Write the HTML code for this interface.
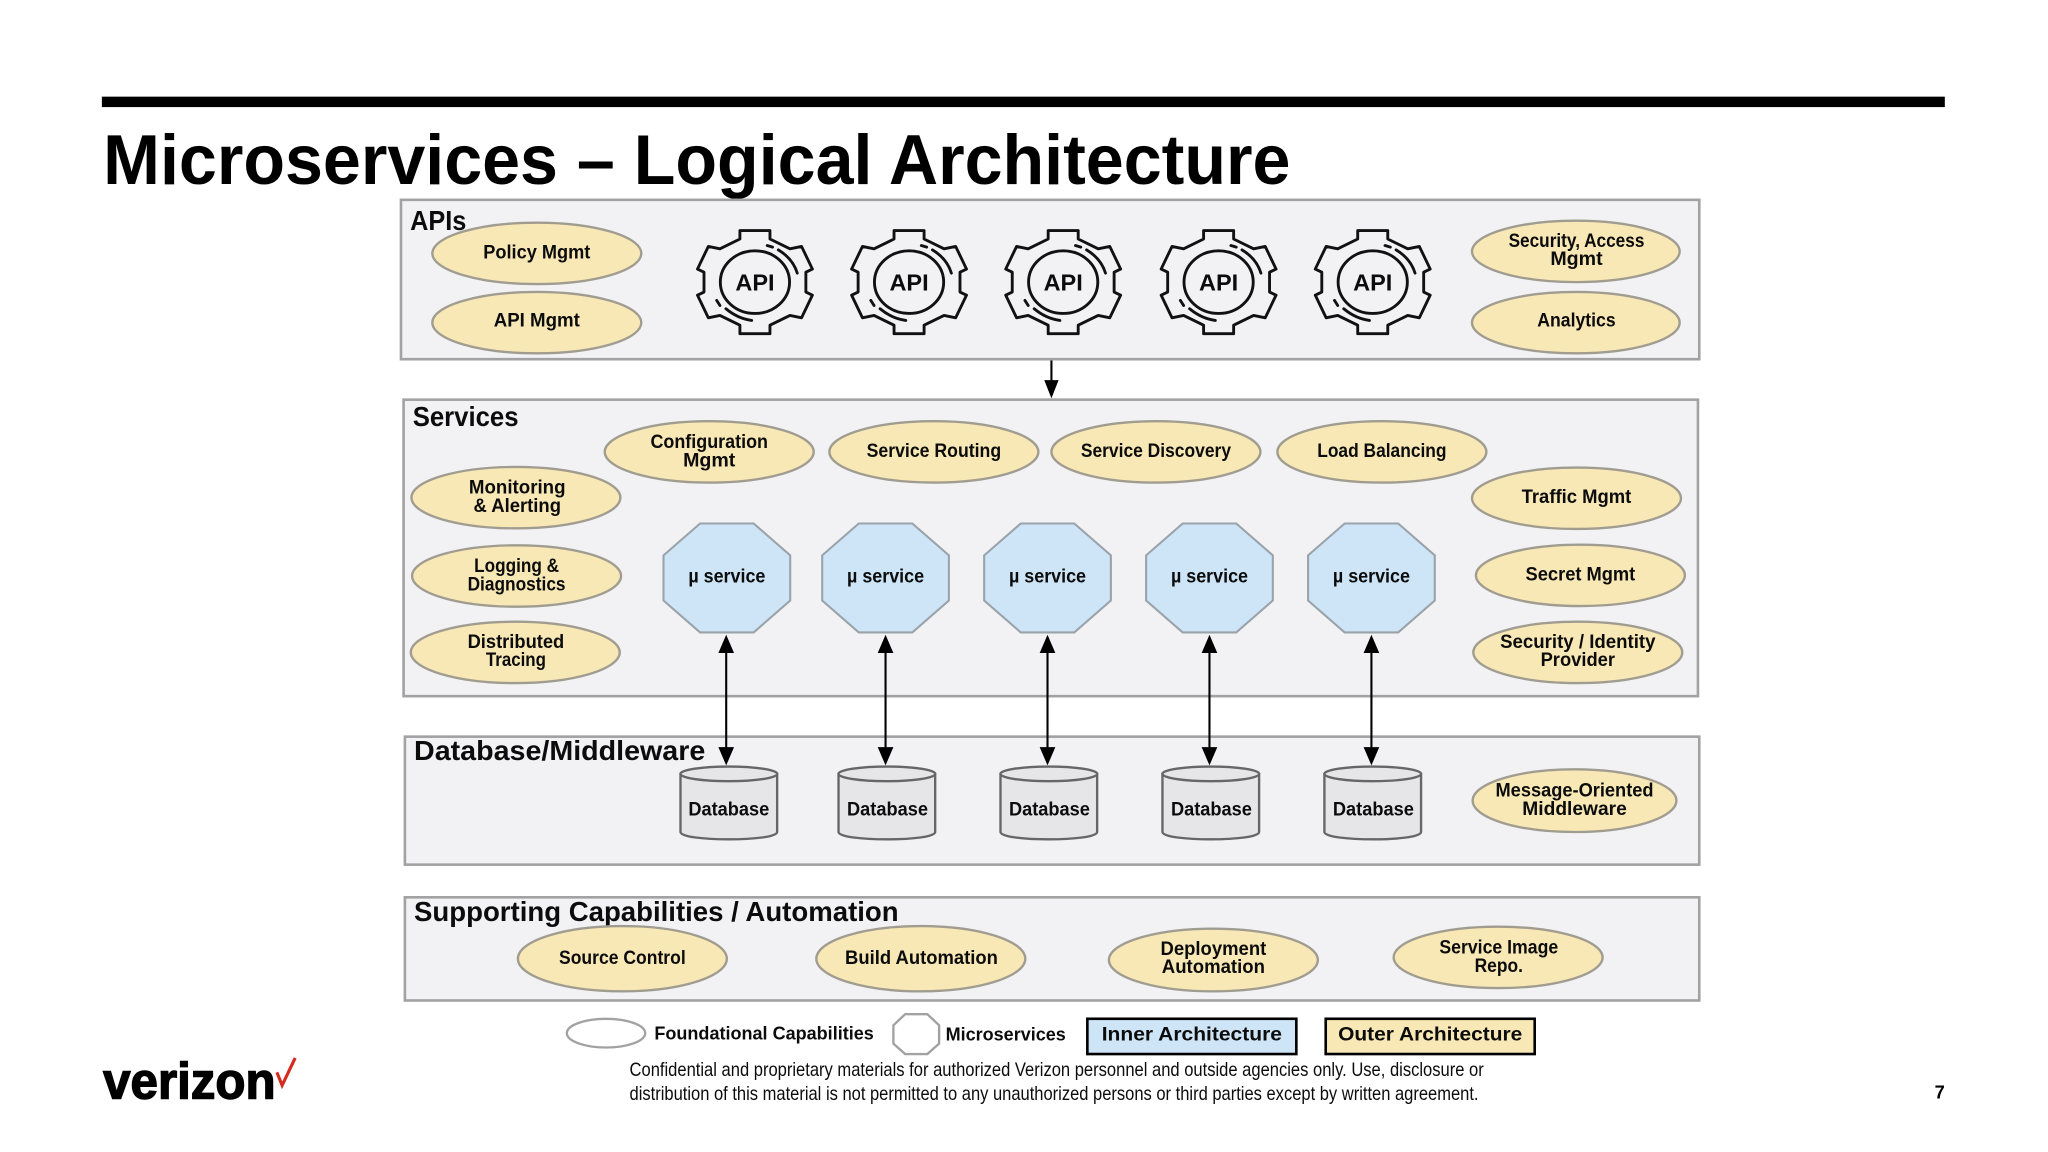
<!DOCTYPE html>
<html>
<head>
<meta charset="utf-8">
<title>Microservices – Logical Architecture</title>
<style>
html,body{margin:0;padding:0;background:#fff;width:2048px;height:1152px;overflow:hidden}
svg{display:block}
text{font-family:"Liberation Sans",sans-serif;fill:#0c0c0c}
.b{font-weight:bold}
.p{font-weight:bold;font-size:14.5px;text-anchor:middle}
.h{font-weight:bold;font-size:21px}
.box{fill:#f2f2f4;stroke:#a2a2a2;stroke-width:2}
.e{fill:#f8e8b6;stroke:#a09c90;stroke-width:1.8}
.o{fill:#cde5f7;stroke:#9aa2aa;stroke-width:1.6}
.a{stroke:#000;stroke-width:1.6;fill:none}
.g{fill:none;stroke:#111;stroke-width:2.2;stroke-linejoin:round;stroke-linecap:round}
.c{fill:#e6e6e9;stroke:#666;stroke-width:1.8}
</style>
</head>
<body>
<svg xmlns="http://www.w3.org/2000/svg" width="2048" height="1152" viewBox="0 0 1568 882">
<defs>
<g id="gear">
<path class="g" d="M-11.5,-33 L-11.5,-39.5 L11.5,-39.5 L11.5,-33 L26.8,-25.5 L35.7,-27.3 L44,-10 L39,-7.6 L39,7.6 L44,10 L35.7,27.3 L26.8,25.5 L11.5,33 L11.5,39.5 L-11.5,39.5 L-11.5,33 L-26.8,25.5 L-35.7,27.3 L-44,10 L-39,7.6 L-39,-7.6 L-44,-10 L-35.7,-27.3 L-26.8,-25.5 Z"/>
<ellipse class="g" rx="26.5" ry="24"/>
<path class="g" d="M17.9,-24.7 Q29,-18 32.4,-6.9 M9.4,-28 L13.5,-26.8 M-22.2,20.4 Q-13,28 -2.5,29.3 M-29.3,14 L-26.8,17.9"/>
</g>
<polygon id="oct" class="o" points="-48.5,-17.3 -20.5,-41.7 20.5,-41.7 48.5,-17.3 48.5,17.3 20.5,41.7 -20.5,41.7 -48.5,17.3"/>
<g id="cyl">
<path class="c" d="M-37,-22.5 L-37,22 C-37,29.5 37,29.5 37,22 L37,-22.5 Z"/>
<ellipse class="c" cx="0" cy="-22.5" rx="37" ry="5.6"/>
</g>
<g id="dbl">
<line class="a" x1="0" y1="498" x2="0" y2="574"/>
<polygon points="0,486 -6,500 6,500"/>
<polygon points="0,586 -6,572 6,572"/>
</g>
</defs>

<rect x="78" y="74" width="1411" height="8" fill="#000"/>
<text x="79" y="141" class="b" style="font-size:54px;fill:#000" textLength="909" lengthAdjust="spacingAndGlyphs">Microservices – Logical Architecture</text>

<rect class="box" x="307" y="153" width="994" height="122"/>
<rect class="box" x="309" y="306" width="991" height="227"/>
<rect class="box" x="310" y="564" width="991" height="98"/>
<rect class="box" x="310" y="687" width="991" height="79"/>

<text x="314" y="176" class="h" textLength="43" lengthAdjust="spacingAndGlyphs">APIs</text>
<text x="316" y="326" class="h" textLength="81" lengthAdjust="spacingAndGlyphs">Services</text>
<text x="317" y="582" class="h" textLength="223" lengthAdjust="spacingAndGlyphs">Database/Middleware</text>
<text x="317" y="705" class="h" textLength="371" lengthAdjust="spacingAndGlyphs">Supporting Capabilities / Automation</text>

<!-- API row -->
<ellipse class="e" cx="411" cy="194" rx="80" ry="23.5"/>
<text class="p" x="411" y="198" textLength="82" lengthAdjust="spacingAndGlyphs">Policy Mgmt</text>
<ellipse class="e" cx="411" cy="247" rx="80" ry="23.5"/>
<text class="p" x="411" y="250" textLength="66" lengthAdjust="spacingAndGlyphs">API Mgmt</text>
<ellipse class="e" cx="1206.5" cy="192.5" rx="79.5" ry="23.5"/>
<text class="p" x="1207" y="189" textLength="104" lengthAdjust="spacingAndGlyphs">Security, Access</text>
<text class="p" x="1207" y="203" textLength="40" lengthAdjust="spacingAndGlyphs">Mgmt</text>
<ellipse class="e" cx="1206.5" cy="247" rx="79.5" ry="23.5"/>
<text class="p" x="1207" y="250" textLength="60" lengthAdjust="spacingAndGlyphs">Analytics</text>

<use href="#gear" x="578" y="216"/>
<use href="#gear" x="696" y="216"/>
<use href="#gear" x="814" y="216"/>
<use href="#gear" x="933" y="216"/>
<use href="#gear" x="1051" y="216"/>
<g style="font-size:18px;font-weight:bold;text-anchor:middle">
<text x="578" y="222.5">API</text>
<text x="696" y="222.5">API</text>
<text x="814" y="222.5">API</text>
<text x="933" y="222.5">API</text>
<text x="1051" y="222.5">API</text>
</g>

<line class="a" x1="805" y1="276" x2="805" y2="294"/>
<polygon points="805,305 799.5,291 810.5,291"/>

<!-- Services -->
<ellipse class="e" cx="543" cy="346" rx="80" ry="23.5"/>
<text class="p" x="543" y="343" textLength="90" lengthAdjust="spacingAndGlyphs">Configuration</text>
<text class="p" x="543" y="357" textLength="40" lengthAdjust="spacingAndGlyphs">Mgmt</text>
<ellipse class="e" cx="715" cy="346" rx="80" ry="23.5"/>
<text class="p" x="715" y="350" textLength="103" lengthAdjust="spacingAndGlyphs">Service Routing</text>
<ellipse class="e" cx="885" cy="346" rx="80" ry="23.5"/>
<text class="p" x="885" y="350" textLength="115" lengthAdjust="spacingAndGlyphs">Service Discovery</text>
<ellipse class="e" cx="1058" cy="346" rx="80" ry="23.5"/>
<text class="p" x="1058" y="350" textLength="99" lengthAdjust="spacingAndGlyphs">Load Balancing</text>

<ellipse class="e" cx="395" cy="381" rx="80" ry="23.5"/>
<text class="p" x="396" y="378" textLength="74" lengthAdjust="spacingAndGlyphs">Monitoring</text>
<text class="p" x="396" y="392" textLength="67" lengthAdjust="spacingAndGlyphs">&amp; Alerting</text>
<ellipse class="e" cx="395.5" cy="441" rx="80" ry="23.5"/>
<text class="p" x="395.5" y="438" textLength="65" lengthAdjust="spacingAndGlyphs">Logging &amp;</text>
<text class="p" x="395.5" y="452" textLength="75" lengthAdjust="spacingAndGlyphs">Diagnostics</text>
<ellipse class="e" cx="394.5" cy="499.5" rx="80" ry="23.5"/>
<text class="p" x="395" y="496" textLength="74" lengthAdjust="spacingAndGlyphs">Distributed</text>
<text class="p" x="395" y="510" textLength="46" lengthAdjust="spacingAndGlyphs">Tracing</text>

<ellipse class="e" cx="1207" cy="381.5" rx="80" ry="23.5"/>
<text class="p" x="1207" y="385" textLength="84" lengthAdjust="spacingAndGlyphs">Traffic Mgmt</text>
<ellipse class="e" cx="1210" cy="440.5" rx="80" ry="23.5"/>
<text class="p" x="1210" y="444.5" textLength="84" lengthAdjust="spacingAndGlyphs">Secret Mgmt</text>
<ellipse class="e" cx="1208" cy="499.5" rx="80" ry="23.5"/>
<text class="p" x="1208" y="496" textLength="119" lengthAdjust="spacingAndGlyphs">Security / Identity</text>
<text class="p" x="1208" y="510" textLength="57" lengthAdjust="spacingAndGlyphs">Provider</text>

<use href="#oct" x="556.5" y="442.5"/>
<use href="#oct" x="678" y="442.5"/>
<use href="#oct" x="802" y="442.5"/>
<use href="#oct" x="926" y="442.5"/>
<use href="#oct" x="1050" y="442.5"/>
<text class="p" x="556.5" y="446" textLength="59" lengthAdjust="spacingAndGlyphs">µ service</text>
<text class="p" x="678" y="446" textLength="59" lengthAdjust="spacingAndGlyphs">µ service</text>
<text class="p" x="802" y="446" textLength="59" lengthAdjust="spacingAndGlyphs">µ service</text>
<text class="p" x="926" y="446" textLength="59" lengthAdjust="spacingAndGlyphs">µ service</text>
<text class="p" x="1050" y="446" textLength="59" lengthAdjust="spacingAndGlyphs">µ service</text>

<!-- Databases -->
<use href="#cyl" x="558" y="615"/>
<use href="#cyl" x="679" y="615"/>
<use href="#cyl" x="803" y="615"/>
<use href="#cyl" x="927" y="615"/>
<use href="#cyl" x="1051" y="615"/>
<text class="p" x="558" y="624.5" textLength="62" lengthAdjust="spacingAndGlyphs">Database</text>
<text class="p" x="679.5" y="624.5" textLength="62" lengthAdjust="spacingAndGlyphs">Database</text>
<text class="p" x="803.5" y="624.5" textLength="62" lengthAdjust="spacingAndGlyphs">Database</text>
<text class="p" x="927.5" y="624.5" textLength="62" lengthAdjust="spacingAndGlyphs">Database</text>
<text class="p" x="1051.5" y="624.5" textLength="62" lengthAdjust="spacingAndGlyphs">Database</text>

<use href="#dbl" x="556"/>
<use href="#dbl" x="678"/>
<use href="#dbl" x="802"/>
<use href="#dbl" x="926"/>
<use href="#dbl" x="1050"/>

<ellipse class="e" cx="1205.5" cy="613" rx="78" ry="24"/>
<text class="p" x="1205.5" y="610" textLength="121" lengthAdjust="spacingAndGlyphs">Message-Oriented</text>
<text class="p" x="1205.5" y="624" textLength="80" lengthAdjust="spacingAndGlyphs">Middleware</text>

<!-- Supporting -->
<ellipse class="e" cx="476.5" cy="734" rx="80" ry="25"/>
<text class="p" x="476.5" y="738" textLength="97" lengthAdjust="spacingAndGlyphs">Source Control</text>
<ellipse class="e" cx="705" cy="734" rx="80" ry="25"/>
<text class="p" x="705.5" y="738" textLength="117" lengthAdjust="spacingAndGlyphs">Build Automation</text>
<ellipse class="e" cx="929" cy="735" rx="80" ry="24"/>
<text class="p" x="929" y="731" textLength="81" lengthAdjust="spacingAndGlyphs">Deployment</text>
<text class="p" x="929" y="745" textLength="79" lengthAdjust="spacingAndGlyphs">Automation</text>
<ellipse class="e" cx="1147" cy="733" rx="80" ry="23.5"/>
<text class="p" x="1147.5" y="730" textLength="91" lengthAdjust="spacingAndGlyphs">Service Image</text>
<text class="p" x="1147.5" y="744" textLength="37" lengthAdjust="spacingAndGlyphs">Repo.</text>

<!-- Legend -->
<ellipse cx="464" cy="791" rx="30" ry="11" fill="#fff" stroke="#a2a2a2" stroke-width="1.8"/>
<text class="b" x="501" y="796" style="font-size:14px" textLength="168" lengthAdjust="spacingAndGlyphs">Foundational Capabilities</text>
<polygon points="684,785 693,776.5 710,776.5 719,785 719,799 710,807 693,807 684,799" fill="#fff" stroke="#a2a2a2" stroke-width="1.8"/>
<text class="b" x="724" y="796.5" style="font-size:14px" textLength="92" lengthAdjust="spacingAndGlyphs">Microservices</text>
<rect x="832.5" y="780" width="160" height="27" fill="#cde5f7" stroke="#000" stroke-width="2"/>
<text class="b" x="843.5" y="796.5" style="font-size:15px" textLength="138" lengthAdjust="spacingAndGlyphs">Inner Architecture</text>
<rect x="1015" y="780" width="160" height="27" fill="#f8e8b6" stroke="#000" stroke-width="2"/>
<text class="b" x="1024.5" y="796.5" style="font-size:15px" textLength="141" lengthAdjust="spacingAndGlyphs">Outer Architecture</text>

<text x="482" y="824" style="font-size:15px" textLength="654" lengthAdjust="spacingAndGlyphs">Confidential and proprietary materials for authorized Verizon personnel and outside agencies only. Use, disclosure or</text>
<text x="482" y="842" style="font-size:15px" textLength="650" lengthAdjust="spacingAndGlyphs">distribution of this material is not permitted to any unauthorized persons or third parties except by written agreement.</text>
<text class="b" x="1489" y="841" style="font-size:14px;text-anchor:end;fill:#000">7</text>

<!-- Logo -->
<text class="b" x="79" y="841" style="font-size:39px;fill:#000;stroke:#000;stroke-width:1.1" textLength="132" lengthAdjust="spacingAndGlyphs">verizon</text>
<polyline points="212,821 216,831 226,810" fill="none" stroke="#d52b1e" stroke-width="2.4"/>
</svg>
</body>
</html>
